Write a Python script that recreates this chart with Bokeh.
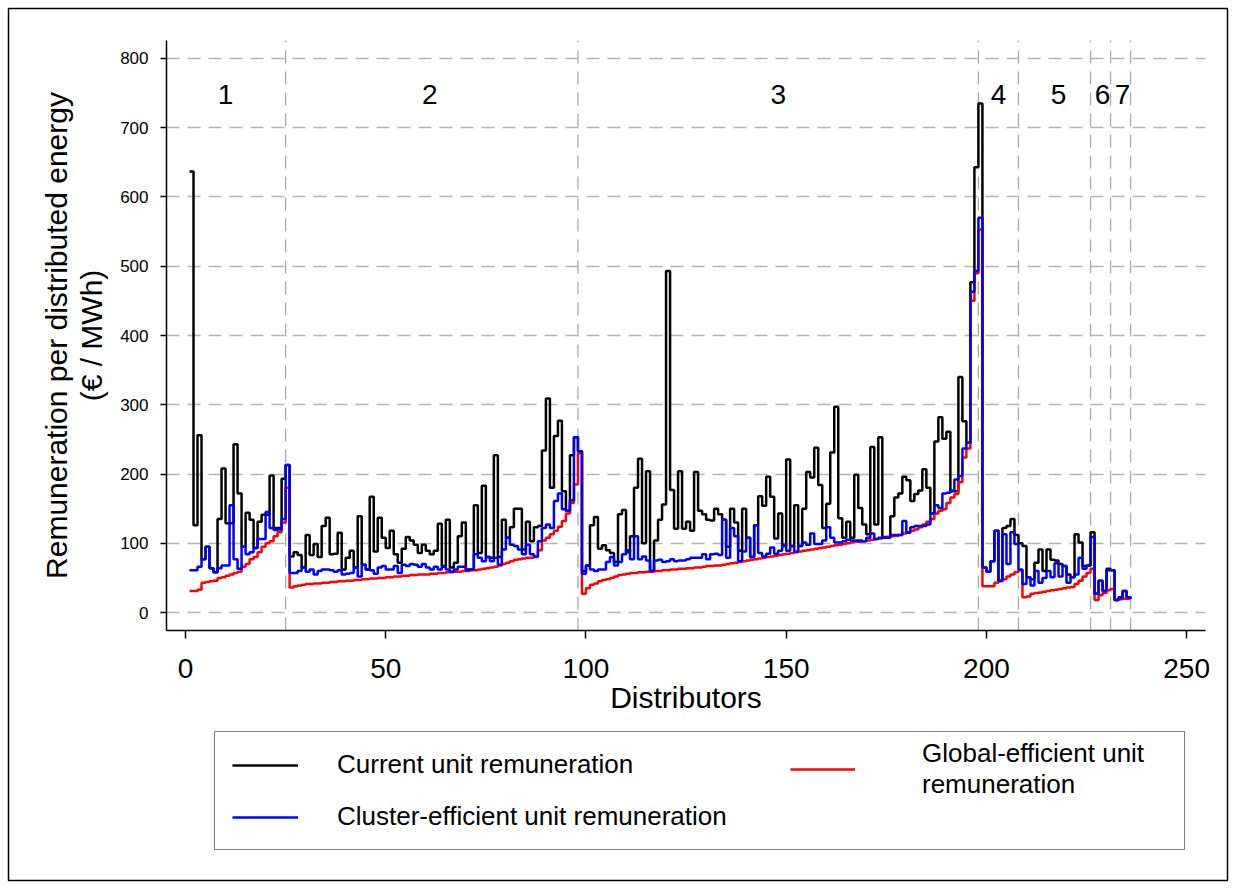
import numpy as np
from bokeh.plotting import figure
from bokeh.models import (Range1d, LinearAxis, FixedTicker, Legend, LegendItem,
                          Grid, ColumnDataSource)
from bokeh.embed import file_html
from bokeh.resources import INLINE
from bokeh.core.properties import value

# ---------------- data ----------------
cluster_names = ["1", "2", "3", "4", "5", "6", "7"]
cluster_sizes = [25, 73, 100, 10, 18, 5, 5]
cluster_label_x = [10, 61, 148, 203, 218, 229, 234]
cluster_label_y = [748, 748, 748, 748, 748, 748, 748]

x_ticks = [0, 50, 100, 150, 200, 250]
y_ticks = [0, 100, 200, 300, 400, 500, 600, 700, 800]

# Current unit remuneration (black)
current_c1 = [637, 126, 256, 77, 95, 64, 58, 135, 208, 129, 129, 243, 172, 95, 144,
              134, 93, 131, 141, 141, 198, 122, 122, 193, 213]
current_c2 = [81, 87, 83, 65, 112, 83, 99, 80, 125, 137, 84, 85, 115, 62, 79, 89, 65, 139, 69, 62,
              167, 88, 137, 108, 93, 118, 84, 72, 92, 109, 104, 98, 86, 98, 89, 84, 89, 128, 67, 134,
              65, 72, 110, 130, 62, 62, 155, 86, 183, 80, 79, 227, 80, 134, 108, 123, 150, 150, 91, 131,
              103, 123, 125, 234, 309, 180, 255, 277, 175, 147, 227, 253, 233]
current_c3 = [60, 68, 126, 138, 92, 97, 90, 86, 73, 142, 148, 87, 110, 180, 222, 100, 204, 60, 104, 134,
              156, 493, 177, 121, 204, 121, 131, 118, 203, 147, 142, 134, 133, 150, 142, 134, 95, 150, 130, 89,
              150, 108, 80, 126, 168, 154, 196, 167, 107, 143, 96, 221, 96, 155, 96, 150, 203, 195, 238, 184,
              122, 157, 231, 297, 136, 108, 131, 108, 199, 151, 127, 113, 239, 127, 253, 109, 109, 139, 166, 172,
              196, 191, 161, 171, 176, 207, 180, 143, 247, 282, 251, 261, 175, 175, 340, 276, 245, 477, 643, 735]
current_c4 = [65, 59, 74, 118, 46, 122, 125, 135, 112, 100]
current_c5 = [96, 51, 48, 72, 91, 60, 91, 76, 75, 70, 67, 55, 51, 113, 101, 67, 68, 116]
current_c6 = [27, 46, 31, 63, 61]
current_c7 = [18, 22, 31, 22, 20]

# Cluster-efficient unit remuneration (blue)
cluster_c1 = [61, 61, 66, 77, 95, 64, 58, 64, 68, 68, 155, 77, 63, 95, 84,
              87, 93, 106, 106, 145, 122, 119, 120, 135, 213]
cluster_c2 = [57, 57, 60, 65, 59, 62, 55, 60, 62, 62, 61, 59, 61, 55, 56, 57, 65, 52, 69, 62,
              61, 56, 65, 67, 62, 62, 67, 57, 69, 67, 70, 69, 66, 70, 65, 62, 66, 62, 66, 62,
              59, 62, 66, 66, 61, 62, 84, 79, 74, 80, 74, 79, 69, 91, 108, 98, 96, 91, 84, 98,
              84, 81, 103, 122, 127, 122, 161, 172, 149, 147, 162, 253, 233]
cluster_c3 = [56, 68, 62, 60, 62, 62, 73, 80, 68, 73, 84, 90, 77, 110, 77, 81, 75, 60, 75, 76,
              73, 74, 77, 74, 75, 75, 77, 79, 79, 79, 84, 77, 84, 85, 83, 134, 79, 122, 110, 74,
              88, 108, 80, 126, 86, 81, 85, 94, 85, 89, 98, 89, 96, 88, 96, 101, 98, 114, 99, 99,
              104, 123, 108, 101, 101, 103, 105, 104, 104, 104, 103, 108, 114, 106, 108, 108, 108, 112, 112, 112,
              132, 115, 123, 125, 125, 125, 127, 143, 155, 151, 172, 173, 176, 192, 197, 237, 245, 463, 493, 570]
cluster_c4 = [65, 59, 74, 118, 46, 113, 70, 116, 99, 62]
cluster_c5 = [41, 51, 39, 60, 43, 50, 60, 51, 71, 52, 67, 43, 51, 55, 79, 63, 68, 109]
cluster_c6 = [27, 46, 31, 61, 61]
cluster_c7 = [18, 21, 31, 22, 20]

# Global-efficient unit remuneration (red)
global_c1 = [31, 31, 33, 43, 44, 45, 46, 50, 51, 53, 55, 57, 59, 66, 70,
             77, 80, 87, 95, 100, 103, 110, 116, 130, 180]
global_c2 = [36, 38, 39, 40, 41, 41, 42, 42, 43, 43, 44, 44, 45, 45, 46, 46, 47, 47, 48, 48,
             49, 49, 50, 50, 51, 51, 52, 52, 53, 53, 54, 54, 55, 55, 55, 56, 56, 57, 57, 58,
             58, 59, 59, 60, 60, 61, 61, 62, 63, 64, 65, 66, 68, 70, 72, 74, 76, 77, 78, 79,
             79, 80, 90, 104, 108, 113, 118, 124, 132, 143, 158, 185, 230]
global_c3 = [27, 35, 40, 42, 45, 47, 48, 50, 52, 54, 55, 56, 57, 57, 58, 58, 59, 59, 60, 60,
             61, 61, 62, 62, 63, 63, 64, 64, 65, 65, 66, 67, 67, 68, 68, 69, 70, 71, 72, 73,
             74, 75, 76, 77, 78, 79, 80, 81, 82, 83, 84, 85, 86, 87, 88, 89, 90, 91, 92, 93,
             94, 95, 96, 97, 98, 99, 100, 101, 102, 102, 103, 104, 105, 106, 107, 108, 109, 110, 111, 112,
             114, 116, 118, 120, 123, 127, 131, 135, 143, 147, 149, 158, 166, 171, 188, 224, 237, 450, 490, 553]
global_c4 = [38, 38, 38, 43, 45, 48, 52, 55, 58, 61]
global_c5 = [22, 23, 27, 28, 29, 30, 31, 32, 33, 34, 35, 36, 37, 41, 46, 52, 57, 63]
global_c6 = [18, 25, 28, 32, 34]
global_c7 = [18, 19, 20, 20, 20]

current = (current_c1 + current_c2 + current_c3 + current_c4 + current_c5 + current_c6 + current_c7)
cluster_eff = (cluster_c1 + cluster_c2 + cluster_c3 + cluster_c4 + cluster_c5 + cluster_c6 + cluster_c7)
global_eff = (global_c1 + global_c2 + global_c3 + global_c4 + global_c5 + global_c6 + global_c7)
distributors = list(range(1, len(current) + 1))
boundaries = list(np.cumsum(cluster_sizes))

# ---------------- figure ----------------
W, H = 1235, 888
PAD = 8
X_LO, X_HI = -44.2, 260.2
Y_LO, Y_HI = -387.0, 872.2
AX_X0, AX_X1 = -4.74, 254.7     # extent of plot area (x)
AX_Y0, AX_Y1 = -26.0, 826.0     # extent of plot area (y)

p = figure(width=W, height=H, output_backend="svg", toolbar_location=None, tools="",
           x_axis_type=None, y_axis_type=None,
           x_range=Range1d(X_LO, X_HI), y_range=Range1d(Y_LO, Y_HI),
           min_border=PAD, min_border_left=PAD, min_border_right=PAD,
           min_border_top=PAD, min_border_bottom=PAD)
p.outline_line_color = "black"
p.outline_line_width = 1.5
p.background_fill_color = "white"
p.border_fill_color = "white"

FONT = "Liberation Sans"
GRID_COLOR = "#b4b4b4"

# horizontal grid
grid_kw = dict(dimension=1, ticker=FixedTicker(ticks=y_ticks),
               grid_line_color=GRID_COLOR, grid_line_dash="13 8", grid_line_width=1.3)
if "cross_bounds" in Grid.properties():
    grid_kw["cross_bounds"] = (AX_X0, AX_X1)
    p.add_layout(Grid(**grid_kw), "center")
else:
    p.segment(x0=[AX_X0] * len(y_ticks), x1=[AX_X1] * len(y_ticks), y0=y_ticks, y1=y_ticks,
              line_color=GRID_COLOR, line_dash="13 8", line_width=1.3)

# cluster separators
p.segment(x0=boundaries, x1=boundaries, y0=[AX_Y0] * len(boundaries), y1=[AX_Y1] * len(boundaries),
          line_color="#a8a8a8", line_dash="13 8", line_width=1.3)

# axes
xaxis = LinearAxis(fixed_location=AX_Y0, bounds=(AX_X0, AX_X1), ticker=FixedTicker(ticks=x_ticks),
                   axis_label="Distributors", axis_label_text_font=FONT,
                   axis_label_text_font_size="30px", axis_label_text_font_style="normal",
                   axis_label_text_color="black", axis_label_standoff=0,
                   major_label_text_font=FONT, major_label_text_font_size="28px",
                   major_label_text_color="black",
                   major_label_standoff=20, major_tick_out=8, major_tick_in=0,
                   minor_tick_out=0, minor_tick_in=0,
                   axis_line_width=1.5, major_tick_line_width=1.5)
p.add_layout(xaxis, "below")

yaxis = LinearAxis(fixed_location=AX_X0, bounds=(AX_Y0, AX_Y1), ticker=FixedTicker(ticks=y_ticks),
                   axis_label="Remuneration per distributed energy\n(€ / MWh)",
                   axis_label_text_font=FONT, axis_label_text_font_size="30px",
                   axis_label_text_font_style="normal", axis_label_text_color="black",
                   axis_label_text_line_height=1.05, axis_label_standoff=9,
                   major_label_text_font=FONT, major_label_text_font_size="17px",
                   major_label_text_color="black",
                   major_label_standoff=12, major_tick_out=6, major_tick_in=0,
                   minor_tick_out=0, minor_tick_in=0,
                   axis_line_width=1.5, major_tick_line_width=1.5)
p.add_layout(yaxis, "left")

# step lines
r_black = p.step(distributors, current, mode="after", line_color="black", line_width=2.5)
r_red = p.step(distributors, global_eff, mode="after", line_color="#ff0000", line_width=2.5)
r_blue = p.step(distributors, cluster_eff, mode="after", line_color="#0000ff", line_width=2.5)

# cluster numbers
lab_src = ColumnDataSource(dict(x=cluster_label_x, y=cluster_label_y, t=cluster_names))
p.text(x="x", y="y", text="t", source=lab_src, text_font=value(FONT),
       text_font_size=value("28px"), text_align="center", text_baseline="middle",
       text_color="black")

# legend (boxed part)
legA = Legend(items=[LegendItem(label="Current unit remuneration", renderers=[r_black]),
                     LegendItem(label="Cluster-efficient unit remuneration", renderers=[r_blue])],
              location=(206, 30), orientation="vertical", margin=0,
              padding=17, spacing=21, glyph_width=66, glyph_height=30,
              label_standoff=39, label_width=830, label_height=30,
              border_line_color="black", border_line_width=1.5,
              background_fill_color="white", background_fill_alpha=1.0,
              label_text_font=FONT, label_text_font_size="26px",
              label_text_color="black")
p.add_layout(legA)

legB = Legend(items=[LegendItem(label="Global-efficient unit\nremuneration", renderers=[r_red])],
              location=(782, 80), orientation="vertical", margin=0,
              padding=0, spacing=0, glyph_width=65, glyph_height=30,
              label_standoff=67, border_line_alpha=0.0, background_fill_alpha=0.0,
              label_text_font=FONT, label_text_font_size="26px", label_text_line_height=0.95,
              label_text_color="black")
p.add_layout(legB)

open("out.html", "w").write(file_html(p, INLINE))
